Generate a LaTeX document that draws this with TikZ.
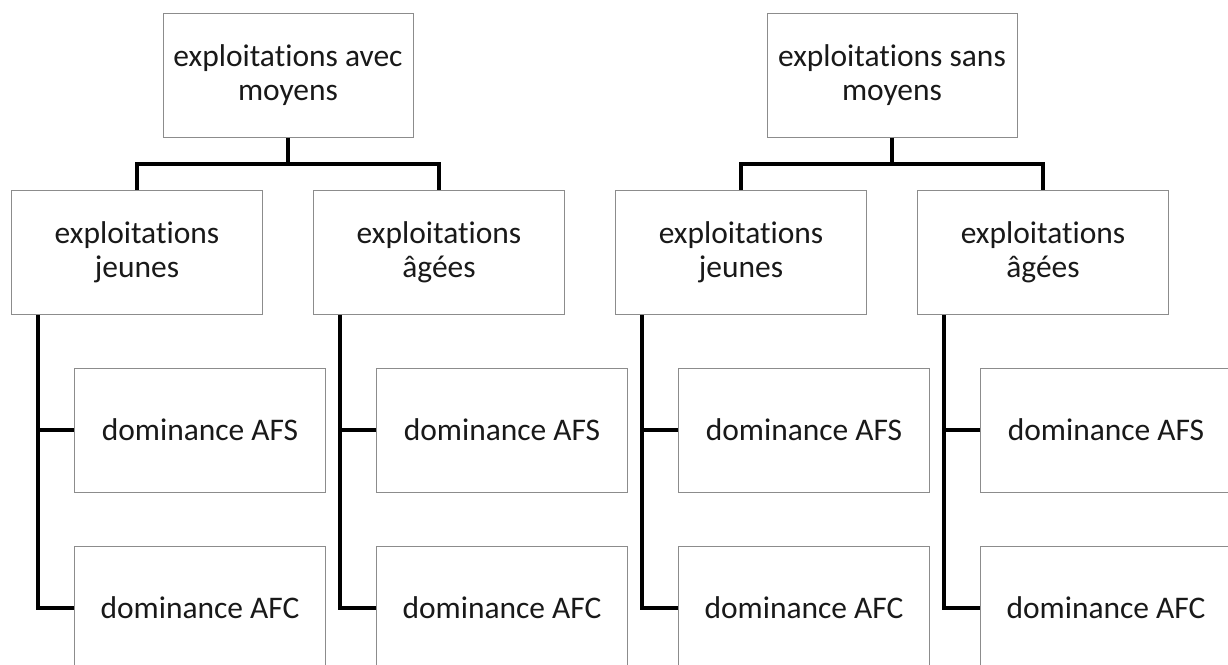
\documentclass[tikz,border=0pt]{standalone}
\usepackage{fontspec}
\setmainfont{Carlito}[Ligatures={NoCommon}]
\usetikzlibrary{calc}
\tikzset{
  box/.style={draw=black!45, line width=0.75pt, fill=white, rectangle,
    minimum width=188pt, minimum height=93pt, inner sep=0pt, align=center,
    font=\fontsize{23.6}{25.2}\selectfont, text=black!90},
  conn/.style={line width=3pt, draw=black}
}
\begin{document}
\begin{tikzpicture}[x=0.75pt,y=-0.75pt]
\useasboundingbox (0,0) rectangle (1228,664);
\foreach \g/\off/\lab in {A/0/avec, B/604/sans}{
  \node[box, minimum width=187.5pt] (top\g) at (288+\off,75) {exploitations \lab\\moyens};
  \node[box] (ja\g) at (137+\off,252.5) {exploitations\\jeunes};
  \node[box] (ag\g) at (439+\off,252.5) {exploitations\\âgées};
  \node[box] (sa\g) at (200+\off,430) {dominance AFS};
  \node[box] (ca\g) at (200+\off,608) {dominance AFC};
  \node[box] (sb\g) at (502+\off,430) {dominance AFS};
  \node[box] (cb\g) at (502+\off,608) {dominance AFC};
  \coordinate (m\g) at ($(top\g.south)+(0,26)$);
  \coordinate (ta\g) at ($(ja\g.south west)+(27,0)$);
  \coordinate (tb\g) at ($(ag\g.south west)+(27,0)$);
  \draw[conn] (top\g.south) -- (m\g);
  \draw[conn] (ja\g.north) |- (m\g) -| (ag\g.north);
  \draw[conn] (ta\g) |- (ca\g.west);
  \draw[conn] (sa\g.west) -- (sa\g.west -| ta\g);
  \draw[conn] (tb\g) |- (cb\g.west);
  \draw[conn] (sb\g.west) -- (sb\g.west -| tb\g);
}
\end{tikzpicture}
\end{document}
